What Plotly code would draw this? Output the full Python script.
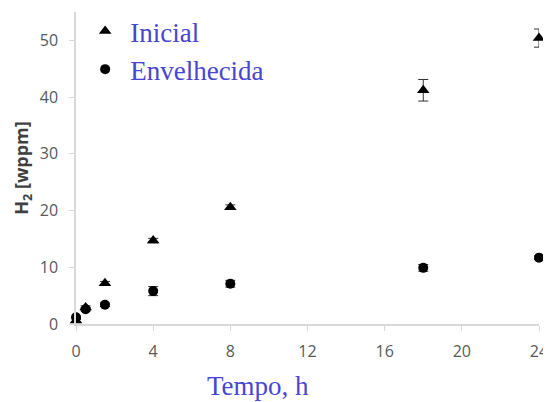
import plotly.graph_objects as go

tempo = [0, 0.5, 1.5, 4, 8, 18, 24]
inicial = [0.6, 2.9, 7.2, 14.7, 20.6, 41.2, 50.4]
inicial_err = [0.2, 0.3, 0.3, 0.4, 0.4, 1.9, 1.6]
envelhecida = [1.2, 2.6, 3.4, 5.8, 7.1, 9.9, 11.7]
envelhecida_err = [0.2, 0.3, 0.3, 0.8, 0.6, 0.6, 0.3]

x_ticks = [0, 4, 8, 12, 16, 20, 24]
y_ticks = [0, 10, 20, 30, 40, 50]

blue = "#4646d2"
tick_font = dict(family="Open Sans, Liberation Sans, sans-serif", size=16, color="#595959")

fig = go.Figure()
fig.add_trace(go.Scatter(
    x=tempo, y=inicial, mode="markers", name="Inicial",
    marker=dict(symbol="triangle-up", size=11, color="black"),
    error_y=dict(type="data", array=inicial_err, color="#333333", thickness=1, width=5),
    cliponaxis=False,
))
fig.add_trace(go.Scatter(
    x=tempo, y=envelhecida, mode="markers", name="Envelhecida",
    marker=dict(symbol="circle", size=10, color="black"),
    error_y=dict(type="data", array=envelhecida_err, color="#333333", thickness=1, width=5),
    cliponaxis=False,
))

# page body has an 8px default margin; size the figure to fit the 551x402 window
fig.update_layout(
    width=543, height=394,
    margin=dict(l=68, r=12, t=4, b=78, autoexpand=False),
    paper_bgcolor="white", plot_bgcolor="white",
    showlegend=True,
    legend=dict(
        x=0.009, y=1.016, xanchor="left", yanchor="top",
        bgcolor="rgba(0,0,0,0)",
        font=dict(family="Liberation Serif, serif", size=27, color=blue),
        itemwidth=40,
    ),
    xaxis=dict(
        range=[0, 24], tickvals=x_ticks, ticks="outside", ticklen=5, tickcolor="#d9d9d9",
        showline=True, linecolor="#d9d9d9", linewidth=1.5, showgrid=False, zeroline=False,
        tickfont=tick_font, automargin=False, ticklabelstandoff=7,
    ),
    yaxis=dict(
        range=[0, 55], tickvals=y_ticks, ticks="outside", ticklen=5, tickcolor="#d9d9d9",
        showline=True, linecolor="#d9d9d9", linewidth=1.5, showgrid=False, zeroline=False,
        tickfont=tick_font, automargin=False, ticklabelstandoff=8,
        title=dict(text="<b>H<sub>2</sub> [wppm]</b>", font=dict(family="Open Sans, Liberation Sans, sans-serif", size=18, color="#404040"), standoff=6),
    ),
    annotations=[dict(
        text="Tempo, h", xref="paper", yref="paper", x=0.393, y=-0.199,
        xanchor="center", yanchor="middle", showarrow=False,
        font=dict(family="Liberation Serif, serif", size=27, color=blue),
    )],
)

fig.write_html("out.html")
